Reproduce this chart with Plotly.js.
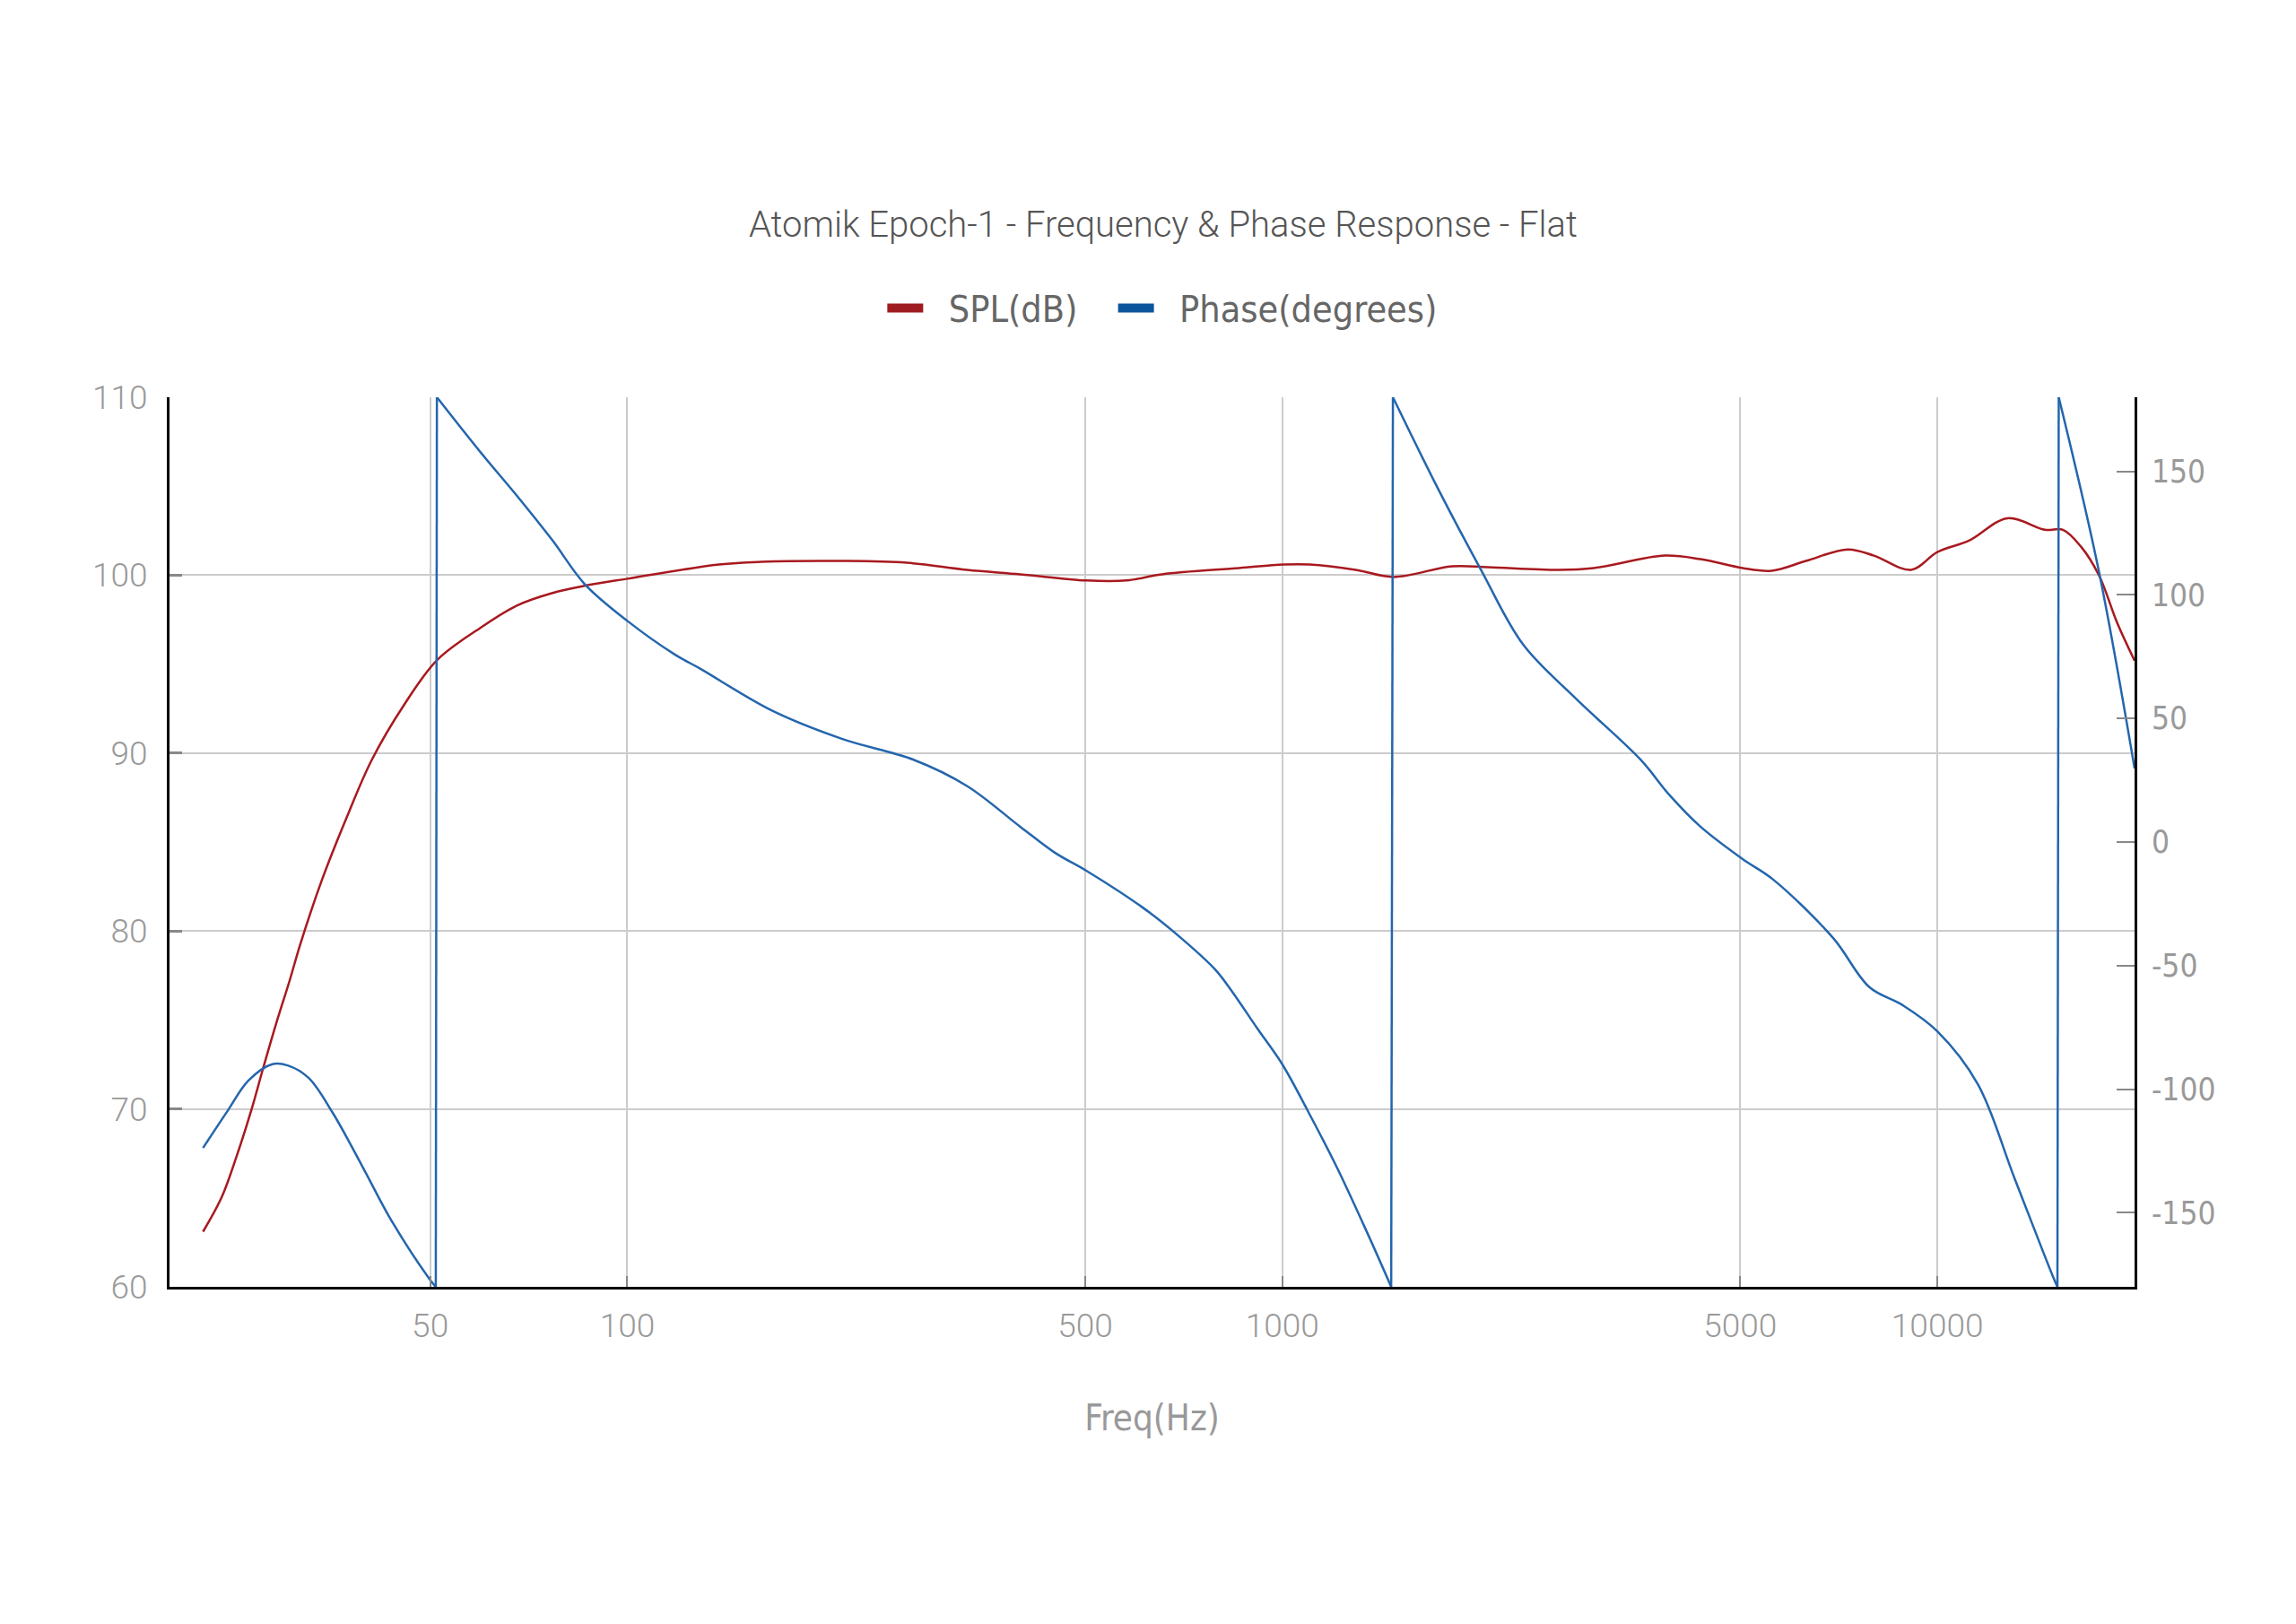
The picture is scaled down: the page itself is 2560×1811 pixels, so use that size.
<!DOCTYPE html>
<html>
<head>
<meta charset="utf-8">
<script src="https://cdn.plot.ly/plotly-3.0.1.min.js"></script>
<style>
  html, body { margin: 0; padding: 0; background: #fff; }
  #chart { width: 2560px; height: 1811px; }
</style>
</head>
<body>
<div id="chart"></div>
<script>
// SPL response (Hz, dB)
const splFreq = [22.5, 24.0, 25.3, 26.7, 27.8, 29.1, 30.5, 31.7, 34.2, 37.3, 40.7, 45.6, 51.3, 60, 67.9, 76.9, 86, 100,
    138, 160, 213, 267, 330, 398, 502, 578, 655, 859, 1005, 1101, 1294, 1479, 1816, 2060, 2643, 2988,
    3834, 4349, 5043, 5585, 6300, 7300, 8000, 9120, 10000, 11190, 12790, 14600, 15550, 16570, 17660, 18800, 20000];
const splDb = [63.1, 65.0, 67.3, 70.0, 72.3, 74.8, 77.2, 79.3, 82.9, 86.4, 89.6, 92.7, 95.25, 97.1, 98.3, 99.0, 99.4, 99.8,
    100.6, 100.75, 100.8, 100.7, 100.3, 100.05, 99.7, 99.7, 100.05, 100.4, 100.6, 100.6, 100.3, 99.9, 100.5, 100.45, 100.3, 100.4,
    101.1, 100.9, 100.4, 100.25, 100.8, 101.45, 101.1, 100.3, 101.3, 101.95, 103.2, 102.55, 102.55, 101.6, 99.97, 97.35, 95.2];

// Wrapped phase (Hz, degrees)
const phaseFreq = [22.5, 24.5, 26.4, 28.7, 30.3, 32.6, 35.5, 39.4, 43.7, 49.9, 51.0,
    51.2, 60, 67.9, 76.9, 86, 100, 118, 129.5, 166, 213, 273, 330, 398, 450, 502, 615, 698, 789, 838, 916,
    1000, 1092, 1213, 1347, 1466,
    1475, 1726, 2009, 2330, 2805, 3521, 3900, 4349, 5043, 5610, 6930, 7880, 8850, 10000, 11530, 13100, 15020, 15250,
    15320, 17620, 20000];
const phaseDeg = [-123.8, -109, -96.5, -89.9, -90.4, -95.4, -109.6, -131.3, -153.5, -176.9, -180,
    180, 157, 140, 122, 104.5, 89.5, 76, 70, 53.3, 41.7, 33.4, 22.7, 6.2, -4.4, -11.6, -26.9, -38.5, -51.5, -60.5, -75.5,
    -90, -108.5, -132, -158, -180,
    180, 143.3, 110.3, 80, 58.1, 33.4, 19, 6.2, -6.9, -15.1, -38.8, -58.8, -66, -76.6, -98, -135.7, -176, -180,
    180, 110.3, 29.8];

const freqTicks = [50, 100, 500, 1000, 5000, 10000];
const phaseTicks = [-150, -100, -50, 0, 50, 100, 150];
const phaseTickText = ['-150', '-100', '-50', '0', '50', '100', '150'];

const RED = '#a8191f';
const BLUE = '#2466ad';
const narrow = '"Liberation Sans Narrow", "DejaVu Sans Condensed", Roboto, sans-serif';

// split the wrapped phase into smooth pieces plus the vertical wrap lines
const phaseX = [], phaseY = [], wrapX = [], wrapY = [];
for (let i = 0; i < phaseFreq.length; i++) {
    if (i > 0 && Math.abs(phaseDeg[i] - phaseDeg[i - 1]) > 300) {
        phaseX.push(null);
        phaseY.push(null);
        wrapX.push(phaseFreq[i - 1], phaseFreq[i], null);
        wrapY.push(phaseDeg[i - 1], phaseDeg[i], null);
    }
    phaseX.push(phaseFreq[i]);
    phaseY.push(phaseDeg[i]);
}

const traces = [
    {
        x: splFreq, y: splDb, type: 'scatter', mode: 'lines', name: 'SPL(dB)',
        line: { color: RED, width: 2.5, shape: 'spline', smoothing: 1 },
        showlegend: false,
    },
    {
        x: phaseX, y: phaseY, type: 'scatter', mode: 'lines', name: 'Phase(degrees)',
        yaxis: 'y2', connectgaps: false,
        line: { color: BLUE, width: 2.5, shape: 'spline', smoothing: 1 },
        showlegend: false,
    },
    {
        x: wrapX, y: wrapY, type: 'scatter', mode: 'lines', name: 'Phase(degrees)',
        yaxis: 'y2', connectgaps: false,
        line: { color: BLUE, width: 2.5 },
        showlegend: false,
    },
    // legend swatches only
    {
        x: [null], y: [null], type: 'scatter', mode: 'lines', name: '\u00a0\u00a0SPL(dB)\u00a0\u00a0\u00a0',
        line: { color: '#9e1b1f', width: 12 },
    },
    {
        x: [null], y: [null], type: 'scatter', mode: 'lines', name: '\u00a0\u00a0Phase(degrees)',
        line: { color: '#0b559c', width: 12 },
    },
];

const layout = {
    width: 2560,
    height: 1811,
    paper_bgcolor: '#ffffff',
    plot_bgcolor: '#ffffff',
    margin: { l: 189, r: 180, t: 443, b: 376 },
    title: {
        text: 'Atomik Epoch-1 - Frequency &amp; Phase Response - Flat',
        font: { family: 'Roboto, sans-serif', size: 40, color: '#555555', weight: 300 },
        x: 0.5066, xanchor: 'center',
        y: 1 - 250 / 1811, yanchor: 'middle',
    },
    showlegend: true,
    legend: {
        orientation: 'h',
        x: 0.363, xanchor: 'left',
        y: 1.1, yanchor: 'middle',
        font: { family: narrow, size: 41, color: '#666666' },
        itemwidth: 40,
        traceorder: 'normal',
    },
    xaxis: {
        type: 'log',
        range: [Math.log10(20), Math.log10(20000)],
        tickvals: freqTicks,
        ticktext: freqTicks.map(String),
        tickfont: { family: 'Roboto, sans-serif', size: 37, color: '#999999', weight: 300 },
        ticks: 'inside', ticklen: 12, tickcolor: '#888888', tickwidth: 2,
        ticklabelstandoff: 9,
        showgrid: true, gridcolor: '#cccccc', gridwidth: 2,
        showline: true, linecolor: '#000000', linewidth: 3,
        zeroline: false,
        title: {
            text: 'Freq(Hz)',
            font: { family: narrow, size: 40, color: '#999999' },
            standoff: 68,
        },
    },
    yaxis: {
        range: [60, 110],
        dtick: 10,
        tickfont: { family: 'Roboto, sans-serif', size: 37, color: '#999999', weight: 300 },
        ticks: 'inside', ticklen: 14, tickcolor: '#888888', tickwidth: 3,
        ticklabelstandoff: 14,
        showgrid: true, gridcolor: '#cccccc', gridwidth: 2,
        showline: true, linecolor: '#000000', linewidth: 3,
        zeroline: false,
    },
    yaxis2: {
        overlaying: 'y',
        side: 'right',
        range: [-180, 180],
        tickvals: phaseTicks,
        ticktext: phaseTickText,
        tickfont: { family: narrow, size: 35, color: '#999999' },
        ticks: 'inside', ticklen: 20, tickcolor: '#888888', tickwidth: 2,
        ticklabelstandoff: 9,
        showgrid: false,
        showline: true, linecolor: '#000000', linewidth: 3,
        zeroline: false,
    },
};

Plotly.newPlot('chart', traces, layout, { displayModeBar: false, staticPlot: true });
</script>
</body>
</html>
